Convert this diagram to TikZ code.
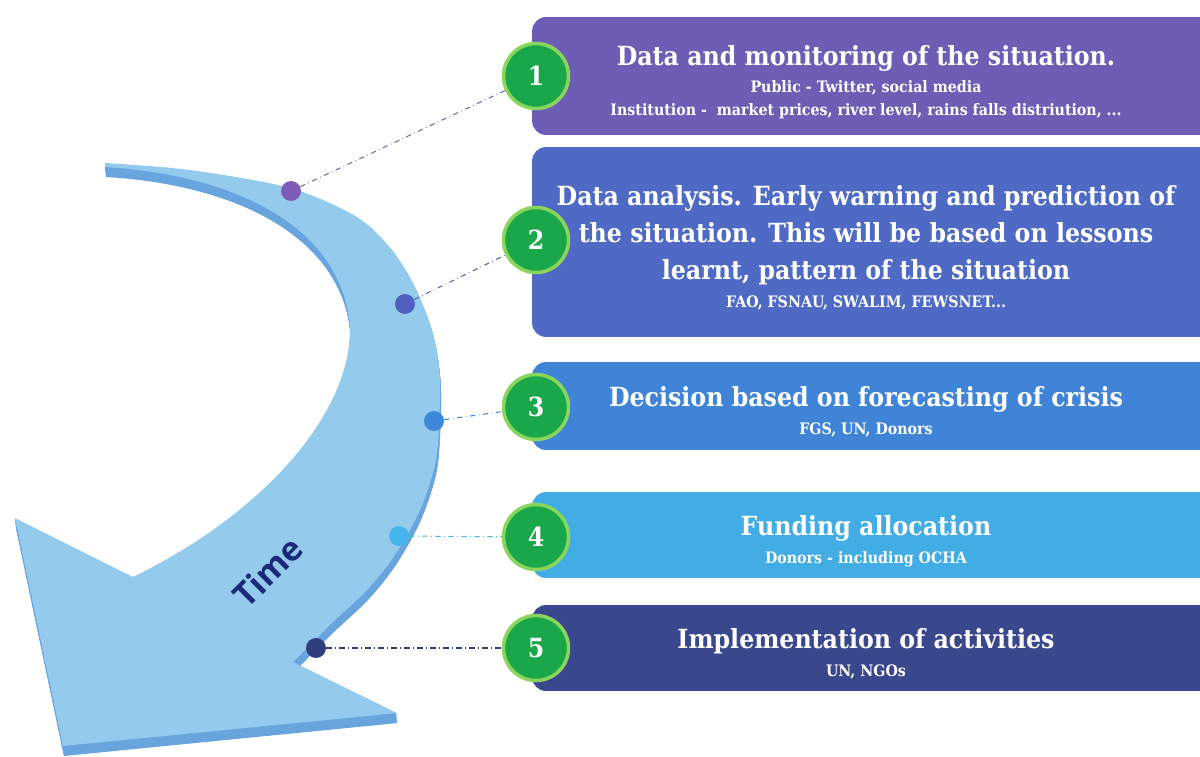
\documentclass[tikz,border=0pt]{standalone}
\usepackage{fontspec}
\newfontfamily\slabfont{DejaVu Serif Condensed}
\newfontfamily\labelfont{Open Sans}
\usetikzlibrary{positioning,backgrounds}

\definecolor{arrowtop}{RGB}{148,203,237}
\definecolor{arrowside}{RGB}{104,165,222}
\definecolor{stageA}{RGB}{110,93,180}
\definecolor{stageB}{RGB}{78,106,196}
\definecolor{stageC}{RGB}{63,132,214}
\definecolor{stageD}{RGB}{65,173,228}
\definecolor{stageE}{RGB}{58,71,141}
\definecolor{badgefill}{RGB}{26,167,74}
\definecolor{badgering}{RGB}{138,214,92}
\definecolor{timetext}{RGB}{27,42,120}
\definecolor{stopA}{RGB}{125,91,183}
\definecolor{stopB}{RGB}{80,96,192}
\definecolor{stopC}{RGB}{62,136,219}
\definecolor{stopD}{RGB}{71,181,235}
\definecolor{stopE}{RGB}{49,62,126}

\newcommand{\headsize}{\fontsize{15}{21}\selectfont}
\newcommand{\headstrut}{\rule{0pt}{18pt}}

% outline of the bent time arrow (pixel units, y down)
\newcommand{\timearrow}{
  plot[smooth] coordinates {(105,163) (190,170) (290,188) (357,217) (392,250) (415,287) (432,330)
    (439,367) (440,400) (436,460) (420,510) (395,555) (367,590) (333,622) (305,650) (293,662)}
  -- (397,713) -- (63,746) -- (15,518) -- (133,577)
  .. controls (270,510) and (350,410) .. (350,330)
  .. controls (345,230) and (240,175) .. (105,167)
  -- cycle}

\begin{document}
\begin{tikzpicture}[x=0.02cm, y=-0.02cm,
    stage/.style={rectangle, rounded corners=8pt, minimum width=13.36cm, inner sep=0pt,
      text=white, align=center, font={\slabfont\bfseries\fontsize{9}{13}\selectfont\lineskiplimit=-20pt}},
    badge/.style={circle, fill=badgefill, draw=badgering, line width=2pt, minimum size=1.3cm,
      inner sep=0pt, text=white, font=\slabfont\bfseries\fontsize{15}{15}\selectfont},
    waypoint/.style={circle, minimum size=0.4cm, inner sep=0pt},
    leader/.style={dash dot, line width=0.6pt}]
  \path[use as bounding box] (0,0) rectangle (1200,757);

  % the arrow: extruded side first, then the top face
  \foreach \s in {1,...,10}
    \fill[arrowside, shift={(\s/10,\s)}] \timearrow;
  \fill[arrowtop] \timearrow;
  \node[rotate=45, text=timetext, font=\labelfont\bfseries\fontsize{19}{19}\selectfont] (timelabel) at (268,572) {Time};

  % stages
  \node[stage, fill=stageA, minimum height=2.36cm] (box1) at (866,76)
    {{\headsize\headstrut Data and monitoring of the situation.}\\[2.5pt]
     Public - Twitter, social media\\
     Institution -\ \ market prices, river level, rains falls distriution, ...};
  \node[stage, fill=stageB, minimum height=3.8cm] (box2) at (866,242)
    {{\headsize\headstrut Data analysis. Early warning and prediction of}\\[8pt]
     {\headsize the situation. This will be based on lessons}\\[8pt]
     {\headsize learnt, pattern of the situation}\\[3pt]
     FAO, FSNAU, SWALIM, FEWSNET...};
  \node[stage, fill=stageC, minimum height=1.76cm] (box3) at (866,406)
    {{\headsize\headstrut Decision based on forecasting of crisis}\\[3pt] FGS, UN, Donors};
  \node[stage, fill=stageD, minimum height=1.72cm] (box4) at (866,535)
    {{\headsize\headstrut Funding allocation}\\[3pt] Donors - including OCHA};
  \node[stage, fill=stageE, minimum height=1.72cm] (box5) at (866,648)
    {{\headsize\headstrut Implementation of activities}\\[3pt] UN, NGOs};

  % square off the right ends
  \begin{scope}[on background layer]
    \foreach \b/\c in {box1/stageA, box2/stageB, box3/stageC, box4/stageD, box5/stageE}
      \fill[\c] (\b.north) rectangle (\b.south east);
  \end{scope}

  % numbers
  \node[badge] (num1) at (536,76) {1};
  \node[badge] (num2) at (536,240) {2};
  \node[badge] (num3) at (536,407) {3};
  \node[badge] (num4) at (536,537) {4};
  \node[badge] (num5) at (536,648) {5};

  % points on the arrow
  \node[waypoint, fill=stopA] (stop1) at (291,191) {};
  \node[waypoint, fill=stopB] (stop2) at (405,304) {};
  \node[waypoint, fill=stopC] (stop3) at (434,421) {};
  \node[waypoint, fill=stopD] (stop4) at (399,536) {};
  \node[waypoint, fill=stopE] (stop5) at (316,648) {};

  \draw[leader, stopA!80!gray] (stop1) -- (num1);
  \draw[leader, stopB!80!gray] (stop2) -- (num2);
  \draw[leader, stopC] (stop3) -- (num3);
  \draw[leader, stopD] (stop4) -- (num4);
  \draw[leader, stopE] (stop5) -- (num5);
\end{tikzpicture}
\end{document}
